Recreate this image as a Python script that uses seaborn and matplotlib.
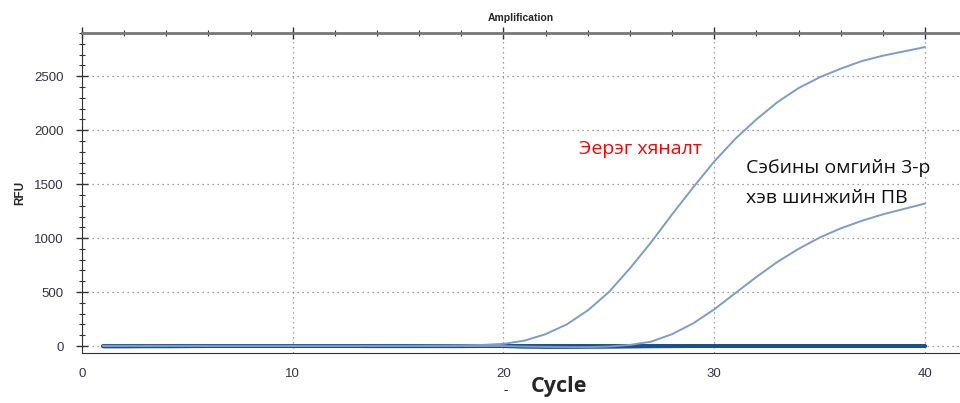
import pandas as pd
import seaborn as sns
import matplotlib.pyplot as plt
from matplotlib.ticker import MultipleLocator

cycles = list(range(1, 41))

# positive control (Эерэг хяналт)
positive = [2, 2, 2, 2, 2, 2, 2, 2, 2, 2, 2, 2, 2, 2, 2, 3, 4, 6, 10, 20,
            50, 110, 200, 330, 500, 720, 960, 1220, 1470, 1710,
            1920, 2100, 2260, 2390, 2490, 2570, 2640, 2690, 2730, 2770]
# Sabin strain type 3
sample = [0, 0, 0, 0, 0, 0, 0, 0, 0, 0, 0, 0, 0, 0, 0, 0, 0, 0, 0, 0,
          -5, -8, -10, -10, -5, 10, 40, 110, 210, 340,
          490, 640, 780, 900, 1005, 1090, 1160, 1220, 1270, 1320]
# negative / flat wells
flat_a = [-5, -5, -4, -4, -3, -2, -2, -2, -2, -2, -2, -2, -2, -3, -3, -3, -3, -3, -2, -2,
          -8, -10, -10, -9, -8, -6, -4, -3, -2, -2, -2, -2, -2, -2, -2, -2, -2, -2, -2, -2]
flat_b = [0, 0, 0, 1, 1, 1, 1, 1, 1, 1, 1, 1, 1, 1, 1, 1, 1, 1, 1, 1,
          1, 1, 1, 1, 1, 1, 1, 1, 1, 1, 1, 1, 1, 1, 1, 1, 1, 1, 1, 1]
flat_c = [3, 3, 3, 3, 3, 3, 3, 3, 3, 3, 3, 3, 3, 3, 3, 3, 3, 3, 3, 3,
          3, 3, 3, 3, 3, 3, 3, 3, 3, 3, 3, 3, 3, 3, 3, 3, 3, 3, 3, 3]

frames = []
for name, vals in [("positive", positive), ("sample", sample)]:
    frames.append(pd.DataFrame({"Cycle": cycles, "RFU": vals, "well": name}))
rising = pd.concat(frames)
frames = []
for name, vals in [("a", flat_a), ("b", flat_b), ("c", flat_c)]:
    frames.append(pd.DataFrame({"Cycle": cycles, "RFU": vals, "well": name}))
flat = pd.concat(frames)

sns.set_style("white")
plt.rcParams['font.family'] = ['Liberation Sans', 'DejaVu Sans']
label_font = ["Open Sans", "DejaVu Sans"]

fig = plt.figure(figsize=(9.6, 4.03), dpi=100)
ax = fig.add_axes([0.0854, 0.124, 0.9146, 0.794])

sns.lineplot(data=flat, x="Cycle", y="RFU", units="well", estimator=None,
             color="#1c4f8e", linewidth=2.6, ax=ax)
sns.lineplot(data=rising, x="Cycle", y="RFU", units="well", estimator=None,
             color="#7c9dc6", linewidth=1.4, ax=ax)

ax.set_xlim(0, 41.66)
ax.xaxis.set_major_locator(MultipleLocator(10))
ax.xaxis.set_minor_locator(MultipleLocator(2))
ax.yaxis.set_major_locator(MultipleLocator(500))
ax.yaxis.set_minor_locator(MultipleLocator(100))
ax.set_ylim(-65, 2900)

ax.grid(True, which="major", linestyle=(0, (1, 3)), color="#808080", linewidth=0.9)
ax.tick_params(axis="both", which="major", direction="inout", length=8, width=1,
               color="#333333", labelsize=9.5, labelcolor="#333344")
ax.tick_params(axis="both", which="minor", direction="inout", length=5, width=0.8,
               color="#333333")
ax.tick_params(axis="x", which="both", top=True)
ax.tick_params(axis="y", which="both", left=True)
ax.tick_params(axis="x", pad=7)
ax.tick_params(axis="y", pad=9)

ax.spines["right"].set_visible(False)
ax.spines["top"].set_color("#777777")
ax.spines["top"].set_linewidth(2)
ax.spines["left"].set_color("#333333")
ax.spines["bottom"].set_color("#333333")

ax.set_xlabel("")
ax.set_ylabel("RFU", fontsize=8.5, fontweight="bold", labelpad=6)
ax.set_title("Amplification", fontsize=7.5, fontweight="bold", pad=9)

fig.text(0.582, 0.04, "Cycle", fontsize=15.5, fontweight="bold",
         family=label_font, ha="center", va="center")
fig.text(0.527, 0.03, "-", fontsize=10, family=label_font,
         ha="center", va="center")

ax.text(23.6, 1830, "Эерэг хяналт", color="#ff0000", fontsize=14,
        family=label_font, ha="left", va="center")
ax.text(31.5, 1510, "Сэбины омгийн 3-р\nхэв шинжийн ПВ", color="#111111",
        fontsize=14, family=label_font, ha="left",
        va="center", linespacing=1.85)

fig.savefig("out.png", dpi=100)
